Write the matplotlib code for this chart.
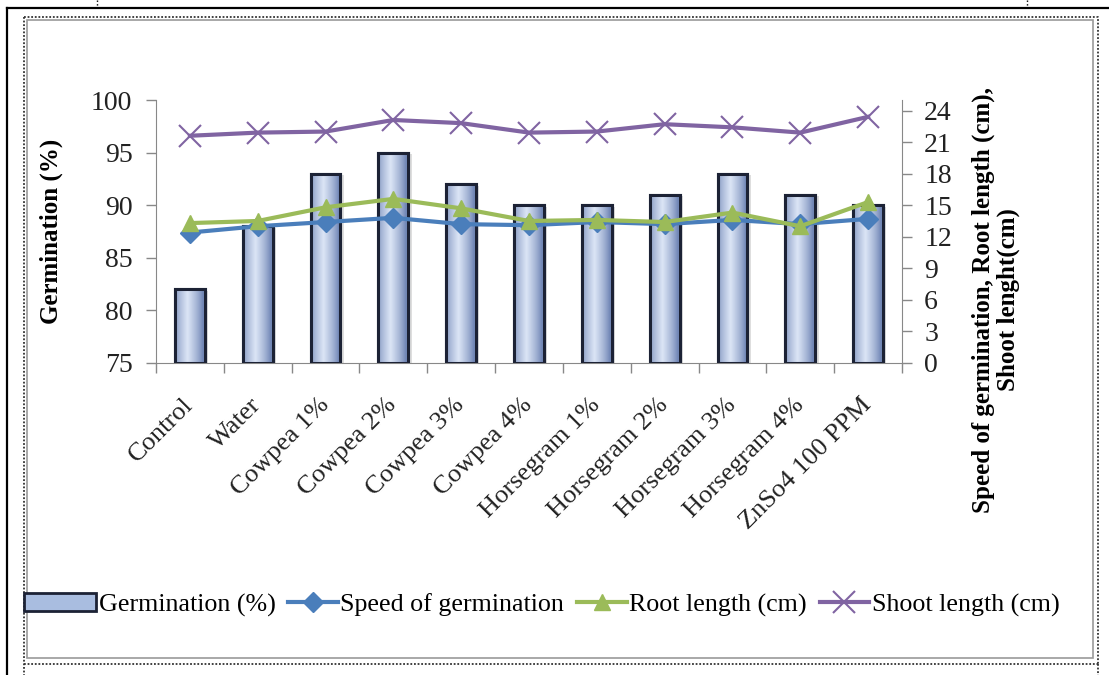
import matplotlib
matplotlib.use("Agg")
import matplotlib.pyplot as plt
import numpy as np
from matplotlib.patches import Rectangle
from matplotlib.lines import Line2D
from matplotlib.legend_handler import HandlerPatch

plt.rcParams['font.family'] = ['Liberation Serif', 'DejaVu Serif']

categories = ["Control", "Water", "Cowpea 1%", "Cowpea 2%", "Cowpea 3%", "Cowpea 4%",
              "Horsegram 1%", "Horsegram 2%", "Horsegram 3%", "Horsegram 4%", "ZnSo4 100 PPM"]
germination = [82, 88, 93, 95, 92, 90, 90, 91, 93, 91, 90]
speed = [12.4, 13.0, 13.4, 13.8, 13.2, 13.1, 13.4, 13.2, 13.6, 13.2, 13.7]
root = [13.3, 13.5, 14.8, 15.6, 14.7, 13.5, 13.6, 13.4, 14.3, 13.0, 15.3]
shoot = [21.6, 21.9, 22.0, 23.1, 22.8, 21.9, 22.0, 22.7, 22.4, 21.9, 23.4]
left_ticks = [75, 80, 85, 90, 95, 100]
right_ticks = [0, 3, 6, 9, 12, 15, 18, 21, 24]

W, H = 1109, 675
fig = plt.figure(figsize=(W / 100, H / 100), dpi=100)

def fx(x): return x / W
def fy(y): return 1 - y / H

# frames
fig.add_artist(Line2D([fx(7), fx(W)], [fy(8), fy(8)], color='black', lw=1.6))
fig.add_artist(Line2D([fx(7), fx(7)], [fy(8), fy(H)], color='black', lw=1.6))
fig.add_artist(Line2D([fx(97), fx(97)], [fy(0), fy(8)], color='black', lw=1, ls=':'))
fig.add_artist(Line2D([fx(1027), fx(1027)], [fy(0), fy(8)], color='black', lw=1, ls=':'))
fig.add_artist(Line2D([fx(24), fx(1098), fx(1098)], [fy(17), fy(17), fy(664)], color='#333333', lw=1.3, ls=(0, (1, 1))))
fig.add_artist(Line2D([fx(24), fx(24)], [fy(17), fy(H)], color='#333333', lw=1.3, ls=(0, (1, 1))))
fig.add_artist(Line2D([fx(24), fx(1098)], [fy(664), fy(664)], color='#333333', lw=1.3, ls=(0, (1, 1))))
fig.add_artist(Line2D([fx(1098), fx(1098)], [fy(664), fy(H)], color='#333333', lw=1.3, ls=(0, (1, 1))))
fig.add_artist(Rectangle((fx(27), fy(658)), fx(1093) - fx(27), fy(20) - fy(658),
                         fill=False, edgecolor='#9a9a9a', lw=1.2))

ax = fig.add_axes([fx(156), fy(363), fx(902) - fx(156), fy(100) - fy(363)])
ax2 = ax.twinx()

x = np.arange(len(categories))
bars = ax.bar(x, germination, width=0.44, color='#a9bde0', edgecolor='#1c2235', linewidth=2.2, zorder=3)

grad = np.linspace(0, 1, 64)
prof = np.clip(1 - np.abs(grad - 0.42) * 2.0, 0, 1) ** 0.8
cmap = matplotlib.colors.LinearSegmentedColormap.from_list('g', ['#7489b8', '#dae4f5'])
img = prof[np.newaxis, :]
for b in bars:
    x0, y0 = b.get_x(), b.get_y()
    w, h = b.get_width(), b.get_height()
    sh = Rectangle((x0 + 0.05, y0), w, h - 0.15, facecolor='#c8c8c8', edgecolor='none', alpha=0.6, zorder=2)
    ax.add_patch(sh)
    im = ax.imshow(img, extent=[x0, x0 + w, 75, y0 + h], aspect='auto', cmap=cmap, zorder=3.5)
    im.set_clip_path(b)
    ax.add_patch(Rectangle((x0, 75), w, h + y0 - 75, fill=False, edgecolor='#1c2235', lw=2.2, zorder=4))

ax.set_xlim(-0.5, len(categories) - 0.5)
ax.set_ylim(75, 100)
ax.set_yticks(left_ticks)
ax.set_yticklabels([str(v) for v in left_ticks], fontsize=20, color='#222222')
ax.tick_params(axis='y', direction='out', length=7, width=1, color='#888888', pad=10)

ax.set_xticks(np.arange(-0.5, len(categories), 1.0))
ax.set_xticklabels([])
ax.set_xticks(x, minor=True)
ax.set_xticklabels(categories, minor=True, rotation=45, ha='right', va='center',
                   rotation_mode='anchor', fontsize=19, color='#222222')
ax.tick_params(axis='x', which='major', direction='out', length=7, width=1, color='#888888')
ax.tick_params(axis='x', which='minor', length=0, pad=28)

for s in ['top', 'right']:
    ax.spines[s].set_visible(False)
ax.spines['left'].set_color('#888888')
ax.spines['bottom'].set_color('#888888')
ax.set_ylabel('Germination (%)', fontsize=18, fontweight='bold', labelpad=20)

ax2.set_ylim(0, 25)
ax2.set_yticks(right_ticks)
ax2.set_yticklabels([str(v) for v in right_ticks], fontsize=20, color='#222222')
ax2.tick_params(axis='y', direction='out', length=7, width=1, color='#888888', pad=9)
for s in ['top', 'left', 'bottom']:
    ax2.spines[s].set_visible(False)
ax2.spines['right'].set_color('#888888')

l1, = ax2.plot(x, speed, color='#4a7ebb', lw=3, marker='D', ms=10, mec='#4a7ebb', mfc='#4a7ebb',
               label='Speed of germination', zorder=5)
l2, = ax2.plot(x, root, color='#9bbb59', lw=3, marker='^', ms=12, mec='#9bbb59', mfc='#9bbb59',
               label='Root length (cm)', zorder=6)
l3, = ax2.plot(x, shoot, color='#8064a2', lw=3, marker='x', ms=16, mew=1.5,
               label='Shoot length (cm)', zorder=5)

fig.text(fx(996), fy(300), 'Speed of germination, Root length (cm),\nShoot lenght(cm)',
         rotation=90, ha='center', va='center', fontsize=18, fontweight='bold',
         multialignment='center', linespacing=1.1)

def make_patch(legend, orig_handle, xdescent, ydescent, width, height, fontsize):
    return Rectangle((-xdescent - 0.45 * width, -ydescent), width * 1.45, height)

bar_handle = Rectangle((0, 0), 1, 1, facecolor='#a9bde0', edgecolor='#1c2235', lw=2)
fig.legend([bar_handle, l1, l2, l3],
           ['Germination (%)', 'Speed of germination', 'Root length (cm)', 'Shoot length (cm)'],
           loc='center', bbox_to_anchor=(fx(553), fy(605)), ncol=4, frameon=False, fontsize=18.7,
           handlelength=1.9, handletextpad=0.1, columnspacing=0.5,
           handler_map={Rectangle: HandlerPatch(patch_func=make_patch)})

fig.savefig('out.png', dpi=100)
